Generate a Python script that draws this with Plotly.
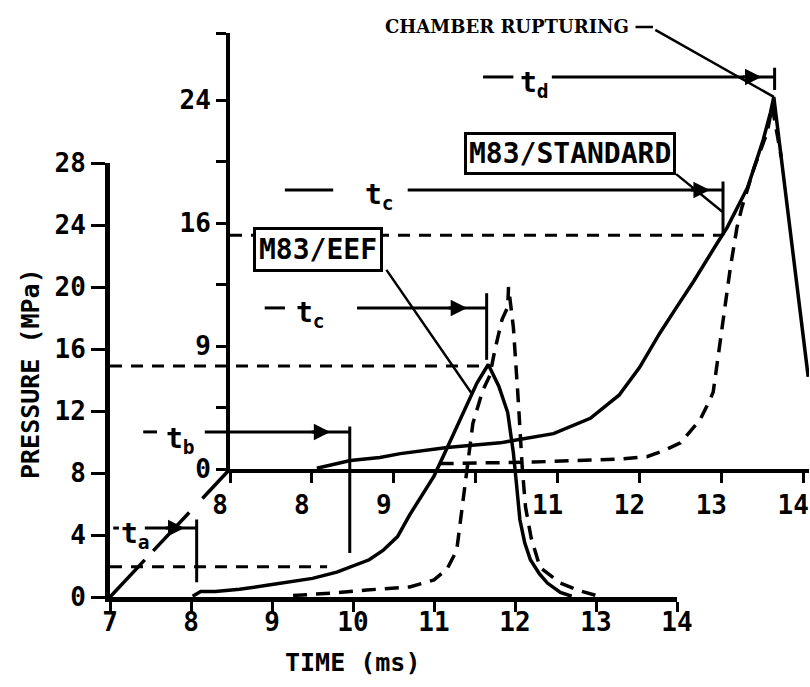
import plotly.graph_objects as go

# ---- M83/EEF (lower chart): time in ms, pressure in MPa ----
eef_solid_t = [8.02, 8.12, 8.3, 8.6, 9.0, 9.5, 9.8, 10.0, 10.2, 10.37, 10.55, 10.7, 10.85,
               11.0, 11.16, 11.28, 11.42, 11.53, 11.67, 11.8, 11.91, 11.98, 12.02, 12.06,
               12.12, 12.19, 12.3, 12.4, 12.56, 12.7]
eef_solid_p = [0.05, 0.35, 0.35, 0.5, 0.8, 1.2, 1.6, 2.0, 2.4, 3.0, 3.9, 5.3, 6.6,
               7.8, 9.6, 11.0, 12.6, 13.8, 15.0, 13.6, 11.9, 9.3, 7.2, 5.0,
               3.5, 2.4, 1.5, 0.9, 0.3, 0.05]

eef_dash_t = [9.26, 9.75, 10.17, 10.7, 11.0, 11.16, 11.28, 11.38, 11.48, 11.6, 11.69, 11.75,
              11.84, 11.91, 11.92, 11.98, 12.02, 12.04, 12.09, 12.13, 12.2, 12.31, 12.56,
              12.8, 13.0]
eef_dash_p = [0.1, 0.25, 0.45, 0.65, 1.1, 1.8, 3.0, 6.9, 11.2, 13.3, 14.3, 15.9,
              17.9, 18.7, 20.0, 17.4, 14.6, 12.7, 8.3, 5.8, 3.8, 1.9, 0.9,
              0.4, 0.1]

# ---- M83/STANDARD (upper chart) ----
std_solid_t = [8.06, 8.47, 8.83, 9.08, 9.65, 10.3, 10.46, 10.95, 11.4, 11.75, 12.0, 12.25,
               12.45, 12.66, 12.95, 13.07, 13.32, 13.51, 13.6, 13.64, 14.06]
std_solid_p = [0.05, 0.55, 0.75, 1.0, 1.4, 1.7, 1.85, 2.3, 3.3, 4.8, 6.6, 8.85,
               10.5, 12.2, 14.7, 15.7, 18.3, 21.4, 23.2, 24.2, 6.0]

std_dash_t = [9.56, 10.0, 10.7, 11.48, 11.76, 12.09, 12.3, 12.5, 12.74, 12.86, 12.9, 12.96,
              13.02, 13.11, 13.19, 13.25, 13.4, 13.56, 13.62, 13.73]
std_dash_p = [0.35, 0.4, 0.45, 0.6, 0.65, 0.8, 1.2, 1.7, 3.2, 4.5, 5.0, 7.3,
              9.7, 13.1, 15.7, 17.0, 19.6, 21.9, 23.6, 20.3]

# ---- axis ticks ----
lower_x_ticks = [7, 8, 9, 10, 11, 12, 13, 14]
lower_y_ticks = [0, 4, 8, 12, 16, 20, 24, 28]
upper_x_ticks = [7, 8, 9, 10, 11, 12, 13, 14]
upper_x_labels = ["8", "8", "9", "", "11", "12", "13", "14"]
upper_y_ticks = [0, 4, 8, 12, 16, 20, 24, 28.36]
upper_y_labels = ["0", "", "9", "", "16", "", "24", ""]

# ---- event times (ms) and reference pressures (MPa) ----
t_a, t_b, t_c_eef = 8.07, 9.96, 11.65
t_c_std, t_d = 13.02, 13.65
p_a, p_c_eef, p_c_std = 1.95, 14.9, 15.2

W, H = 810, 687
MONO = "DejaVu Sans Mono"
INK = "black"

# subplot frames (pixel edges of each axes box)
LX0, LX1, LY0, LY1 = 110, 677, 597, 163
UX0, UX1, UY0, UY1 = 230, 809, 469, 33


def fx(px):
    return px / W


def fy(py):
    return 1 - py / H


fig = go.Figure()

solid = dict(color=INK, width=3.5)
dashed = dict(color=INK, width=3.5, dash="14px,9px")

fig.add_trace(go.Scatter(x=eef_solid_t, y=eef_solid_p, mode="lines", line=solid,
                         xaxis="x", yaxis="y", hoverinfo="skip"))
fig.add_trace(go.Scatter(x=eef_dash_t, y=eef_dash_p, mode="lines", line=dashed,
                         xaxis="x", yaxis="y", hoverinfo="skip"))
fig.add_trace(go.Scatter(x=std_solid_t, y=std_solid_p, mode="lines", line=solid,
                         xaxis="x2", yaxis="y2", hoverinfo="skip"))
fig.add_trace(go.Scatter(x=std_dash_t, y=std_dash_p, mode="lines", line=dashed,
                         xaxis="x2", yaxis="y2", hoverinfo="skip"))

shapes = []
annotations = []


def seg(xr, yr, x0, y0, x1, y1, width=3, dash=None):
    ln = dict(color=INK, width=width)
    if dash:
        ln["dash"] = dash
    shapes.append(dict(type="line", xref=xr, yref=yr, x0=x0, y0=y0, x1=x1, y1=y1,
                       line=ln, layer="above"))


def dimension(xr, yr, level, lead, start, tip, end, bar, label, sub, lx, ly):
    seg(xr, yr, lead[0], level, lead[1], level)
    seg(xr, yr, start, level, end, level)
    seg(xr, yr, end, bar[0], end, bar[1])
    annotations.append(dict(xref=xr, yref=yr, x=tip, y=level, axref=xr, ayref=yr,
                            ax=tip - 0.25, ay=level, text="", showarrow=True,
                            arrowhead=2, arrowsize=1.1, arrowwidth=3, arrowcolor=INK))
    annotations.append(dict(xref=xr, yref=yr, x=lx, y=ly, showarrow=False,
                            text=f"{label}<sub>{sub}</sub>",
                            font=dict(family=MONO, size=28, color=INK, weight="bold"),
                            xanchor="center", yanchor="middle"))


# reference pressure levels
seg("x", "y", 7, p_a, 9.68, p_a, dash="12px,9px")
seg("x", "y", 7, p_c_eef, t_c_eef, p_c_eef, dash="12px,9px")
seg("x2", "y2", 7, p_c_std, t_c_std, p_c_std, dash="12px,9px")

# time intervals
dimension("x", "y", 4.45, (7.04, 7.11), 7.43, 7.92, t_a, (0.95, 5.0), "t", "a", 7.32, 4.0)
dimension("x", "y", 10.65, (7.41, 7.58), 8.17, 9.72, t_b, (2.84, 11.0), "t", "b", 7.87, 10.1)
dimension("x", "y", 18.65, (8.91, 9.16), 10.05, 11.41, t_c_eef, (15.3, 19.6), "t", "c", 9.47, 18.2)
dimension("x2", "y2", 18.15, (7.67, 8.26), 9.17, 12.86, t_c_std, (15.2, 18.7), "t", "c", 8.82, 17.7)
dimension("x2", "y2", 25.5, (10.09, 10.46), 10.93, 13.49, t_d, (24.65, 26.1), "t", "d", 10.72, 25.0)

# diagonal joining the two origins, broken around the t_a label
for f0, f1 in [(0.0, 0.29), (0.36, 0.66), (0.77, 1.0)]:
    shapes.append(dict(type="line", xref="paper", yref="paper",
                       x0=fx(LX0 + (UX0 - LX0) * f0), y0=fy(LY0 + (UY0 - LY0) * f0),
                       x1=fx(LX0 + (UX0 - LX0) * f1), y1=fy(LY0 + (UY0 - LY0) * f1),
                       line=dict(color=INK, width=3.5)))

box_font = dict(family=MONO, size=28, color=INK, weight="bold")

# M83/EEF label and leader to the lower solid trace
annotations.append(dict(xref="x", yref="y", x=11.47, y=13.1, axref="x", ayref="y",
                        ax=10.4, ay=21.2, text="", showarrow=True, arrowhead=0,
                        arrowwidth=2.5, arrowcolor=INK))
annotations.append(dict(xref="x2", yref="y2", x=8.07, y=14.3, text="M83/EEF",
                        showarrow=False, font=box_font, bgcolor="white",
                        bordercolor=INK, borderwidth=3, borderpad=3))

# M83/STANDARD label and leader to the t_c bar
annotations.append(dict(xref="x2", yref="y2", x=t_c_std, y=16.7, axref="x2", ayref="y2",
                        ax=12.43, ay=19.26, text="", showarrow=True, arrowhead=0,
                        arrowwidth=2.5, arrowcolor=INK))
annotations.append(dict(xref="x2", yref="y2", x=11.15, y=20.5, text="M83/STANDARD",
                        showarrow=False, font=box_font, bgcolor="white",
                        bordercolor=INK, borderwidth=3, borderpad=2))

# chamber rupture callout pointing at the peak of the standard trace
peak_i = std_solid_p.index(max(std_solid_p))
annotations.append(dict(xref="x2", yref="y2", x=std_solid_t[peak_i], y=std_solid_p[peak_i],
                        ax=-120, ay=-68, text="", showarrow=True, arrowhead=0,
                        arrowwidth=2.5, arrowcolor=INK))
annotations.append(dict(xref="paper", yref="paper", x=fx(653), y=fy(27), ax=-19, ay=0,
                        text="", showarrow=True, arrowhead=0, arrowwidth=2.5,
                        arrowcolor=INK))
annotations.append(dict(xref="paper", yref="paper", x=fx(507), y=fy(27),
                        text="CHAMBER RUPTURING", showarrow=False,
                        font=dict(family="DejaVu Serif", size=18, color=INK, weight="bold"),
                        xanchor="center", yanchor="middle"))

# axis titles
title_font = dict(family=MONO, size=25, color=INK, weight="bold")
annotations.append(dict(xref="paper", yref="paper", x=fx(30), y=fy(374), text="PRESSURE (MPa)",
                        textangle=-90, showarrow=False, font=title_font,
                        xanchor="center", yanchor="middle"))
annotations.append(dict(xref="paper", yref="paper", x=fx(352), y=fy(662), text="TIME (ms)",
                        showarrow=False, font=title_font, xanchor="center", yanchor="middle"))

tick_font = dict(family=MONO, size=26, color=INK, weight="bold")
common = dict(showgrid=False, zeroline=False, showline=True, linecolor=INK,
              ticks="outside", tickcolor=INK, tickfont=tick_font, fixedrange=True,
              automargin=False, ticklabeloverflow="allow")

fig.update_layout(
    width=W, height=H,
    margin=dict(l=0, r=0, t=0, b=0),
    paper_bgcolor="white",
    plot_bgcolor="rgba(0,0,0,0)",
    showlegend=False,
    xaxis=dict(domain=[fx(LX0), fx(LX1)], range=[7, 14], anchor="y",
               tickvals=lower_x_ticks, ticktext=[str(v) for v in lower_x_ticks],
               linewidth=5, ticklen=10, tickwidth=3, ticklabelstandoff=-12, **common),
    yaxis=dict(domain=[fy(LY0), fy(LY1)], range=[0, 28], anchor="x",
               tickvals=lower_y_ticks, ticktext=[str(v) for v in lower_y_ticks],
               linewidth=5, ticklen=14, tickwidth=3, **common),
    xaxis2=dict(domain=[fx(UX0), fx(UX1)], range=[7, 14.07], anchor="y2",
                tickvals=upper_x_ticks, ticktext=upper_x_labels,
                linewidth=4, ticklen=10, tickwidth=3, ticklabelshift=-10, **common),
    yaxis2=dict(domain=[fy(UY0), fy(UY1)], range=[0, 28.36], anchor="x2",
                tickvals=upper_y_ticks, ticktext=upper_y_labels,
                linewidth=4, ticklen=10, tickwidth=3, **common),
    shapes=shapes,
    annotations=annotations,
)

fig.write_html("out.html")
